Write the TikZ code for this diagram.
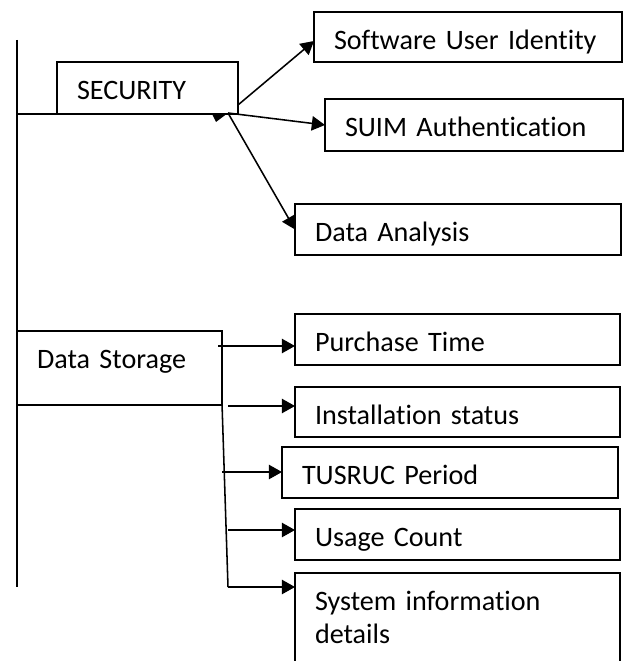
\documentclass[tikz,border=0pt]{standalone}
\usepackage{fontspec}
\setmainfont{Carlito}[Ligatures=NoCommon]
\usetikzlibrary{arrows.meta}

\begin{document}
\begin{tikzpicture}[
    x=0.025cm, y=-0.025cm,
    >={Triangle[length=0.33cm,width=0.36cm]},
    % Boxes and connector lines
    itemBox/.style={draw, line width=1.3pt, anchor=north west, inner xsep=0.5cm, inner ysep=0pt,
        outer sep=0pt, align=left, text height=0.925cm, font=\fontsize{20}{23.5}\selectfont},
    linkLine/.style={line width=1.1pt}
]

    % --- BOUNDS ---
    \useasboundingbox (0,0) rectangle (624,661);
    \clip (0,0) rectangle (624,661);

    % --- MAIN SPINE ---
    \coordinate (spineTop) at (17,40);
    \coordinate (spineBot) at (17,587);
    \draw[linkLine] (spineTop) -- (spineBot);

    % --- SECURITY BRANCH ---
    \node[itemBox, text width=3.525cm, text depth=0.375cm] (security) at (57,62) {SECURITY};
    \node[itemBox, text width=6.7cm, text depth=0.325cm] (userIdentity) at (314,12) {Software User Identity};
    \node[itemBox, text width=6.45cm, text depth=0.375cm] (suimAuth) at (325,99) {SUIM Authentication};
    \node[itemBox, text width=7.15cm, text depth=0.35cm] (dataAnalysis) at (295,204) {Data Analysis};

    \draw[linkLine] (security.south west) -- (security.south west -| spineTop);

    \coordinate (secOutA) at (238,105);
    \coordinate (secOutB) at (228,113);
    \draw[linkLine, ->] (secOutA) -- ([yshift=-0.1cm]userIdentity.west);
    \draw[linkLine, ->] (secOutB) -- (suimAuth.west);
    \draw[linkLine, ->] (secOutB) -- (dataAnalysis.west);
    \fill (secOutB) -- ++(-16,1) -- ++(4,8) -- cycle;

    % --- DATA STORAGE BRANCH ---
    \node[itemBox, text width=4.125cm, text depth=0.925cm] (dataStorage) at (17,331) {Data Storage};
    \node[itemBox, text width=7.125cm, text depth=0.35cm] (purchase) at (295,314) {Purchase Time};
    \node[itemBox, text width=7.125cm, text depth=0.325cm] (install) at (295,387) {Installation status};
    \node[itemBox, text width=7.4cm, text depth=0.35cm] (tusruc) at (282,447) {TUSRUC Period};
    \node[itemBox, text width=7.125cm, text depth=0.35cm] (usage) at (295,509) {Usage Count};
    \node[itemBox, text width=7.125cm, text depth=3cm] (sysInfo) at (295,573) {System information\\details};

    \coordinate (storeBend) at (228,587);
    \draw[linkLine] (dataStorage.south east) -- (storeBend);
    \draw[linkLine, ->] (storeBend) -- (storeBend -| sysInfo.west);

    \coordinate (toPurchase) at (218,346);
    \coordinate (toInstall) at (228,406);
    \coordinate (toTusruc) at (222,472);
    \coordinate (toUsage) at (228,530);
    \draw[linkLine, ->] (toPurchase) -- (toPurchase -| purchase.west);
    \draw[linkLine, ->] (toInstall) -- (toInstall -| install.west);
    \draw[linkLine, ->] (toTusruc) -- (toTusruc -| tusruc.west);
    \draw[linkLine, ->] (toUsage) -- (toUsage -| usage.west);

\end{tikzpicture}
\end{document}
